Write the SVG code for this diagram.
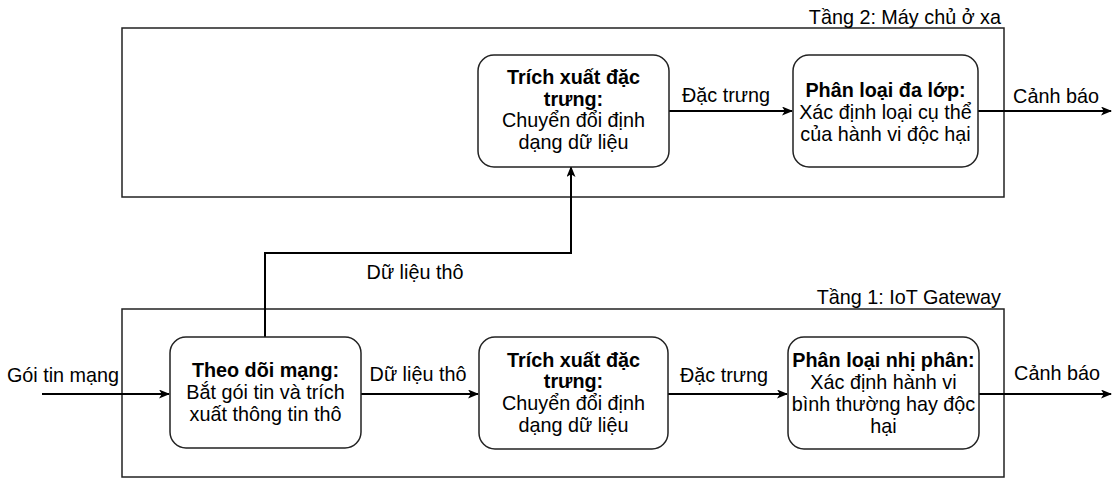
<svg xmlns="http://www.w3.org/2000/svg" width="1116" height="479" viewBox="0 0 1116 479">
<style>
text{font-family:"Liberation Sans",Arial,sans-serif;font-size:19.8px;fill:#000}
.c{text-anchor:middle}
.e{text-anchor:end}
.b{font-weight:bold}
.tier{fill:#fff;stroke:#222;stroke-width:1.5}
.box{fill:#fff;stroke:#222;stroke-width:1.5}
.ln{fill:none;stroke:#000;stroke-width:2}
</style>
<defs>
<marker id="ar" viewBox="0 0 11 9" refX="10" refY="4.5" markerWidth="11" markerHeight="9" markerUnits="userSpaceOnUse" orient="auto">
<path d="M0,0 L11,4.5 L0,9 L2.8,4.5 z" fill="#000"/>
</marker>
</defs>
<g id="tier2">
<rect class="tier" x="122" y="28" width="882" height="169"/>
<text class="e" x="1001" y="24">Tầng 2: Máy chủ ở xa</text>
</g>
<g id="tier1">
<rect class="tier" x="122" y="309" width="882" height="168"/>
<text class="e" x="1001" y="304">Tầng 1: IoT Gateway</text>
</g>
<g id="connectors">
<path class="ln" d="M42,394 H169" marker-end="url(#ar)"/>
<path class="ln" d="M361,394 H478" marker-end="url(#ar)"/>
<path class="ln" d="M668,394 H787" marker-end="url(#ar)"/>
<path class="ln" d="M979,394 H1111" marker-end="url(#ar)"/>
<path class="ln" d="M265,337 V253 H571 V167" marker-end="url(#ar)"/>
<path class="ln" d="M669,111 H792" marker-end="url(#ar)"/>
<path class="ln" d="M978,111 H1111" marker-end="url(#ar)"/>
<text class="c" x="63" y="382">Gói tin mạng</text>
<text class="c" x="418" y="381">Dữ liệu thô</text>
<text class="c" x="724" y="382">Đặc trưng</text>
<text class="c" x="1057" y="380">Cảnh báo</text>
<text class="c" x="415" y="279">Dữ liệu thô</text>
<text class="c" x="726" y="102">Đặc trưng</text>
<text class="c" x="1056" y="103">Cảnh báo</text>
</g>
<g id="monitor">
<rect class="box" x="170" y="337" width="191" height="111" rx="16"/>
<text class="c" x="265.5" y="377"><tspan class="b">Theo dõi mạng:</tspan><tspan x="265.5" dy="22">Bắt gói tin và trích</tspan><tspan x="265.5" dy="22">xuất thông tin thô</tspan></text>
</g>
<g id="extract1">
<rect class="box" x="479" y="337" width="189" height="112" rx="16"/>
<text class="c" x="573.5" y="366.5"><tspan class="b">Trích xuất đặc</tspan><tspan class="b" x="573.5" dy="21.7">trưng:</tspan><tspan x="573.5" dy="21.7">Chuyển đổi định</tspan><tspan x="573.5" dy="21.7">dạng dữ liệu</tspan></text>
</g>
<g id="binary">
<rect class="box" x="788" y="337" width="191" height="112" rx="16"/>
<text class="c" x="883.5" y="367"><tspan class="b">Phân loại nhị phân:</tspan><tspan x="883.5" dy="22">Xác định hành vi</tspan><tspan x="883.5" dy="22">bình thường hay độc</tspan><tspan x="883.5" dy="22">hại</tspan></text>
</g>
<g id="extract2">
<rect class="box" x="478" y="55" width="191" height="112" rx="16"/>
<text class="c" x="573.5" y="84"><tspan class="b">Trích xuất đặc</tspan><tspan class="b" x="573.5" dy="21.7">trưng:</tspan><tspan x="573.5" dy="21.7">Chuyển đổi định</tspan><tspan x="573.5" dy="21.7">dạng dữ liệu</tspan></text>
</g>
<g id="multiclass">
<rect class="box" x="793" y="55" width="185" height="112" rx="16"/>
<text class="c" x="885.5" y="97"><tspan class="b">Phân loại đa lớp:</tspan><tspan x="885.5" dy="22">Xác định loại cụ thể</tspan><tspan x="885.5" dy="22">của hành vi độc hại</tspan></text>
</g>
</svg>
